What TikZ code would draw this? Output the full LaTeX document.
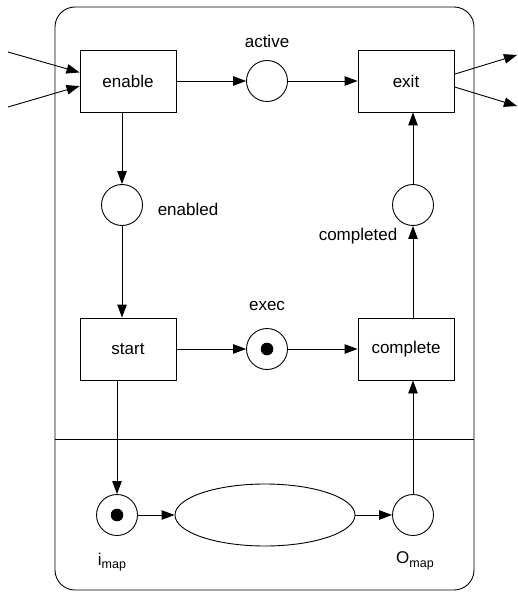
\documentclass[tikz,border=0pt]{standalone}
\usepackage{fontspec}
\setmainfont{Liberation Sans}
\usetikzlibrary{arrows.meta,shapes.geometric}
\newcommand\lfs{\fontsize{17}{20}\selectfont}
\newcommand\mapsub[1]{\raisebox{-3.5pt}{\fontsize{12.5}{14}\selectfont #1}}
\tikzset{tr/.style={draw,rectangle,minimum width=96pt,minimum height=62pt,font=\lfs},pl/.style={draw,circle,minimum size=41pt,inner sep=0pt},lb/.style={font=\lfs,inner sep=0pt},arr/.style={-{Triangle[length=13pt,width=9.5pt]}}}

\begin{document}
\begin{tikzpicture}[x=1pt,y=-1pt,line width=0.9pt]
\useasboundingbox(0,0)rectangle(517,596);
\draw[rounded corners=20pt](55,7)rectangle(474,590);\draw(55,439)--(474,439);
\node[tr](enable)at(128,81){enable};\node[pl](active)at(267,81){};\node[tr](exit)at(406,81){exit};
\node[pl](enabled)at(122,205){};\node[pl](completed)at(413,205){};
\node[tr](start)at(128,349){start};\node[pl](exec)at(267,349){};\node[tr](complete)at(406,349){complete};
\node[pl](imap)at(117,515){};\node[draw,ellipse,minimum width=180pt,minimum height=62pt](map)at(265,515){};\node[pl](omap)at(413,515){};
\fill(exec)circle[radius=6.3];\fill(imap)circle[radius=6.3];
\node[lb](lactive)at(267,41){active};\node[lb](lenabled)at(188,209){enabled};\node[lb](lcompleted)at(358,236){completed};
\node[lb](lexec)at(267,306){exec};\node[lb](limap)at(112,562){i\mapsub{map}};\node[lb](lomap)at(415,561){O\mapsub{map}};
\foreach\a/\b in{enable/active,active/exit,start/exec,exec/complete,imap/map,map/omap,enable.south-|enabled/enabled,enabled/start.north-|enabled,start.south-|imap/imap,omap/complete.south-|omap,complete.north-|completed/completed,completed/exit.south-|completed}\draw[arr](\a)--(\b);
\coordinate(in1)at(8,52);\coordinate(in2)at(8,107);\coordinate(out1)at(517,55);\coordinate(out2)at(517,106);
\draw[arr](in1)--(enable.170);\draw[arr](in2)--(enable.186);\draw[arr](exit.8)--(out1);\draw[arr](exit.353)--(out2);
\end{tikzpicture}
\end{document}
